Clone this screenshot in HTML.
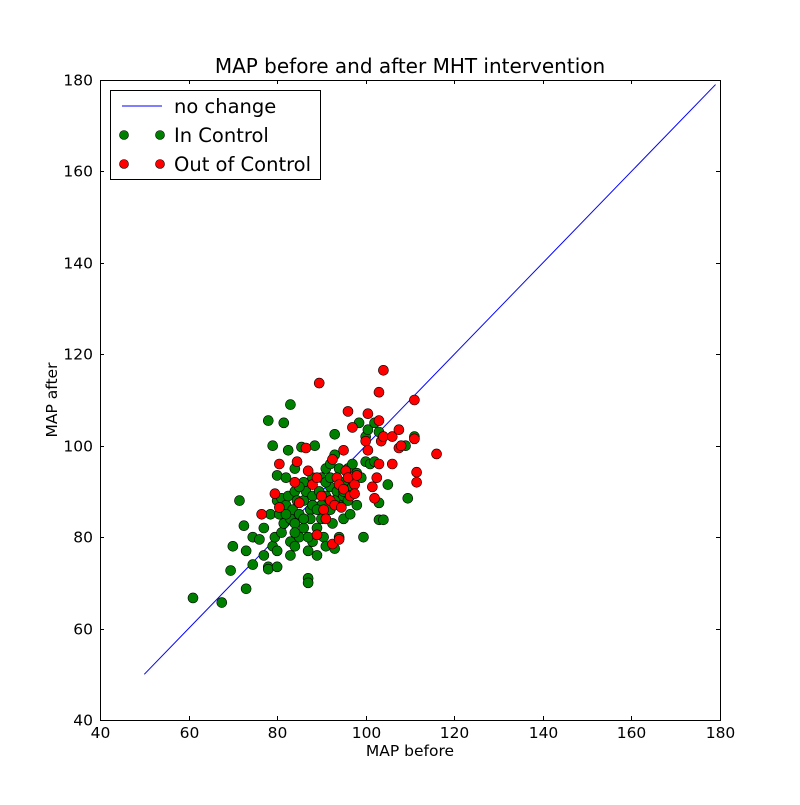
<!DOCTYPE html>
<html><head><meta charset="utf-8"><style>
body{margin:0;background:#fff}
svg text{font-family:"DejaVu Sans","Liberation Sans",sans-serif;fill:#000}
</style></head><body>
<svg id="chart" width="800" height="800" xmlns="http://www.w3.org/2000/svg">
<rect width="800" height="800" fill="#fff"/>
<g id="plot"></g>
<text x="410" y="73" font-size="20" text-anchor="middle">MAP before and after MHT intervention</text>
<text x="410" y="756" font-size="15.5" text-anchor="middle">MAP before</text>
<text x="57" y="400" font-size="15.5" text-anchor="middle" transform="rotate(-90 57 400)">MAP after</text>
<g>
<rect x="110.5" y="90.5" width="210" height="89" fill="#fff" stroke="#000"/>
<line x1="122" y1="106" x2="162" y2="106" stroke="#0000ff"/>
<text x="174" y="113" font-size="19.5">no change</text>
<circle cx="124" cy="135" r="4.5" fill="#008000" stroke="#000" stroke-width="0.6"/>
<circle cx="160" cy="135" r="4.5" fill="#008000" stroke="#000" stroke-width="0.6"/>
<text x="174" y="142" font-size="19.5">In Control</text>
<circle cx="124" cy="164" r="4.5" fill="#ff0000" stroke="#000" stroke-width="0.6"/>
<circle cx="160" cy="164" r="4.5" fill="#ff0000" stroke="#000" stroke-width="0.6"/>
<text x="174" y="171" font-size="19.5">Out of Control</text>
</g>
</svg>
<script>
const xTicks=[40,60,80,100,120,140,160,180];
const yTicks=[40,60,80,100,120,140,160,180];
const lineX=[50,179];
const lineY=[50,179];
const greenX=[61,67.5,69.5,70,71.5,72.5,73,73,74.5,74.5,76,77,77,78,78,78,78.5,79,79,79.5,80,80,80,80,80.5,81,81,81.5,81.5,82,82,82.5,82.5,83,83,83,83,83.5,84,84,84,84,84.5,85,85,85.5,86,86,86,86.5,87,87,87,87.5,87.5,88,88,88,88.5,89,89,89.5,90,90,90,90.5,91,91,91,92,92,92,92.5,93,93,93,93.5,94,94,94,95,95,95,96,96,96.5,97,97,98,98,98.5,99,99.5,100,100,100.5,101,102,102,103,103,103,104,105,109,109.5,111,82,85,88,91,93,86,89,92,95,84,87];
const greenY=[66.7,65.7,72.7,78,88,82.5,68.7,77,80,74,79.5,82,76,73.5,73,105.5,85,100,78,80,88,93.5,77,73.5,85,81,88.5,105,83,87,93,99,89,109,76,84,79,86,90,95,83,78,88,85,80,99.7,92,82,88,90,71,70,77,86,84,93,89,79,100,76,82,90,93,87,84,80,95,89,78,91,86,96,83,98,102.5,77.5,90,87,95,80,92,89,84,95,88,85,96,91,94,87,105,93,80,102,96.5,103.5,96,105,96.5,103,87.5,83.8,83.8,91.5,100,88.5,102,85,91,87,92,88,84,86,93,90,81,80];
const redX=[76.5,79.5,80.5,80.5,84,84.5,85,86.5,87,88,89,89,89.5,90,90.5,91,92,92.5,92.5,93,93.5,94,94,94.5,95,95,95.5,96,96,96.5,97,97.5,97.5,98,100,100.5,100.5,101.5,102,102.5,103,103,103,103.5,104,104,106,106,107.5,107.5,108,111,111,111.5,111.5,116];
const redY=[85,89.5,96,86.5,92,96.5,87.5,99.5,94.5,91.5,80.5,93,113.7,89,86,84,88,97,78.5,87,93,91.5,79.5,86.5,90.5,99,94.5,107.5,93,89,104,91.5,89.5,93.5,101,107,99,91,88.5,93,111.7,105.5,96,101,116.5,102,96,102,103.5,99.5,100,110,101.5,94.2,92,98.2];
const L=100,R=720,T=80,B=720;
const sx=v=>L+(v-40)/140*(R-L);
const sy=v=>B-(v-40)/140*(B-T);
const NS="http://www.w3.org/2000/svg";
const g=document.getElementById('plot');
function mk(t,a){const e=document.createElementNS(NS,t);for(const k in a)e.setAttribute(k,a[k]);g.appendChild(e);return e;}
const ln=mk('line',{x1:sx(lineX[0]),y1:sy(lineY[0]),x2:sx(lineX[1]),y2:sy(lineY[1]),stroke:'#0000ff','stroke-width':1});


greenX.forEach((x,i)=>{const c=mk('circle',{cx:sx(x),cy:sy(greenY[i]),r:5,fill:'#008000',stroke:'#000','stroke-width':0.6});

});
redX.forEach((x,i)=>{const c=mk('circle',{cx:sx(x),cy:sy(redY[i]),r:5,fill:'#ff0000',stroke:'#000','stroke-width':0.6});

});
const fr=mk('rect',{x:L+0.5,y:T+0.5,width:R-L,height:B-T,fill:'none',stroke:'#000'});


xTicks.forEach(v=>{const x=Math.round(sx(v))+0.5;
mk('line',{x1:x,y1:B,x2:x,y2:B-4,stroke:'#000'});mk('line',{x1:x,y1:T,x2:x,y2:T+4,stroke:'#000'});
const t=mk('text',{x:x,y:B+18,'font-size':15.5,'text-anchor':'middle'});t.textContent=v;

});
yTicks.forEach(v=>{const y=Math.round(sy(v))+0.5;
mk('line',{x1:L,y1:y,x2:L+4,y2:y,stroke:'#000'});mk('line',{x1:R,y1:y,x2:R-4,y2:y,stroke:'#000'});
const t=mk('text',{x:L-7,y:y+5,'font-size':15.5,'text-anchor':'end'});t.textContent=v;

});
</script>
</body></html>
